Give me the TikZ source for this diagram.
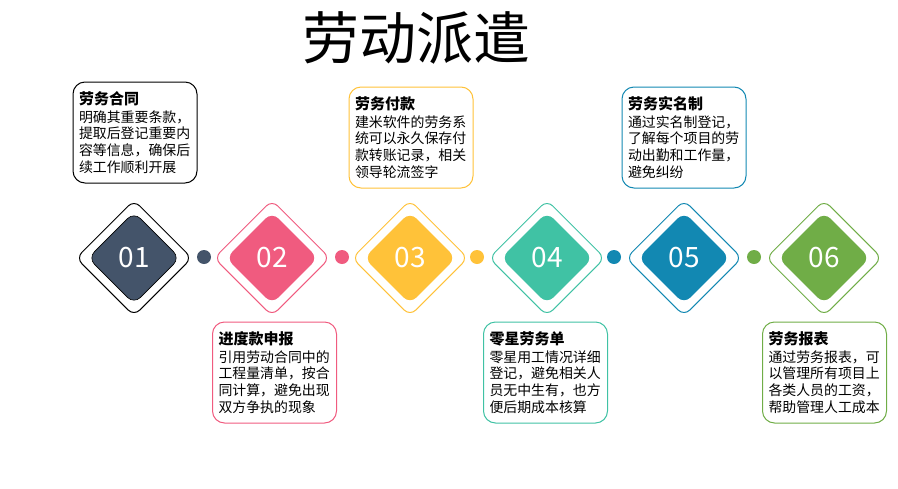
\documentclass[tikz,border=0pt]{standalone}
\usepackage{fontspec}
\setmainfont{Noto Sans CJK SC}
\usetikzlibrary{shapes.geometric}
\definecolor{stepSlate}{HTML}{44546A}
\definecolor{stepRose}{HTML}{F05B7F}
\definecolor{stepAmber}{HTML}{FFC239}
\definecolor{stepTeal}{HTML}{40C2A4}
\definecolor{stepBlue}{HTML}{1288B2}
\definecolor{stepGreen}{HTML}{70AD47}
\newcommand{\lwCard}[2]{{\fontsize{15}{18}\selectfont\bfseries #1}\\[1pt]#2}

\begin{document}
\begin{tikzpicture}[x=1pt,y=-1pt,
  outerdia/.style={diamond, draw=#1, line width=1pt, minimum width=116pt, minimum height=116pt, inner sep=0pt, rounded corners=8pt, fill=white},
  innerdia/.style={diamond, fill=#1, minimum width=92pt, minimum height=92pt, inner sep=0pt, rounded corners=9pt, text=white, font=\fontsize{28}{28}\selectfont},
  linkdot/.style={circle, fill=#1, minimum size=14pt, inner sep=0pt},
  card/.style={draw=#1, line width=1pt, rounded corners=12pt, minimum width=124pt, minimum height=101pt, text width=112pt, align=left, inner sep=0pt, font=\fontsize{13.9}{16.8}\selectfont}]
\useasboundingbox (0,0) rectangle (898,488);
\node (title) at (416,38) {\fontsize{57}{60}\selectfont 劳动派遣};
% steps
\node[outerdia=black] (diaA) at (134,258) {};
\node[innerdia=stepSlate, draw=black, line width=0.6pt] (numA) at (134,258) {01};
\node[outerdia=stepRose] (diaB) at (272,258) {};
\node[innerdia=stepRose] (numB) at (272,258) {02};
\node[outerdia=stepAmber] (diaC) at (410,258) {};
\node[innerdia=stepAmber] (numC) at (410,258) {03};
\node[outerdia=stepTeal] (diaD) at (547,258) {};
\node[innerdia=stepTeal] (numD) at (547,258) {04};
\node[outerdia=stepBlue] (diaE) at (684,258) {};
\node[innerdia=stepBlue] (numE) at (684,258) {05};
\node[outerdia=stepGreen] (diaF) at (824,258) {};
\node[innerdia=stepGreen] (numF) at (824,258) {06};
% dots between steps
\node[linkdot=stepSlate] (dotA) at (204,257) {};
\node[linkdot=stepRose] (dotB) at (342,257) {};
\node[linkdot=stepAmber] (dotC) at (477,257) {};
\node[linkdot=stepBlue] (dotD) at (614,257) {};
\node[linkdot=stepGreen] (dotE) at (754,257) {};
% cards
\node[card=black] (cardA) at (135,132.5) {\lwCard{劳务合同}{明确其重要条款，\\提取后登记重要内\\容等信息，确保后\\续工作顺利开展}};
\node[card=stepAmber] (cardC) at (411,137.5) {\lwCard{劳务付款}{建米软件的劳务系\\统可以永久保存付\\款转账记录，相关\\领导轮流签字}};
\node[card=stepBlue] (cardE) at (684,137.5) {\lwCard{劳务实名制}{通过实名制登记，\\了解每个项目的劳\\动出勤和工作量，\\避免纠纷}};
\node[card=stepRose] (cardB) at (274.5,372.5) {\lwCard{进度款申报}{引用劳动合同中的\\工程量清单，按合\\同计算，避免出现\\双方争执的现象}};
\node[card=stepTeal] (cardD) at (545.5,372.5) {\lwCard{零星劳务单}{零星用工情况详细\\登记，避免相关人\\员无中生有，也方\\便后期成本核算}};
\node[card=stepGreen] (cardF) at (824.5,372.5) {\lwCard{劳务报表}{通过劳务报表，可\\以管理所有项目上\\各类人员的工资，\\帮助管理人工成本}};
\end{tikzpicture}
\end{document}
